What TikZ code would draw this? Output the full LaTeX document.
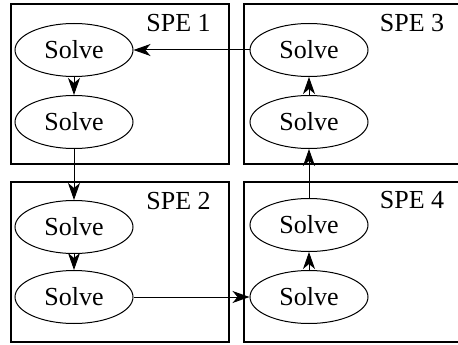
\documentclass[tikz,border=0pt]{standalone}
\usepackage{fontspec}
\setmainfont{Liberation Serif}
\usetikzlibrary{arrows.meta,shapes.geometric}
\begin{document}
\begin{tikzpicture}[x=1pt,y=-1pt,
 spebox/.style={draw,line width=1.5pt,minimum width=218pt,minimum height=160pt,inner sep=0pt},
 solve/.style={draw,ellipse,line width=1pt,minimum width=118pt,minimum height=53pt,inner sep=0pt,font=\fontsize{26}{29}\selectfont},
 lbl/.style={anchor=base,font=\fontsize{26}{29}\selectfont,inner sep=0pt},
 flow/.style={line width=1pt,-{Stealth[length=17pt,width=12pt,inset=5pt]}}]
\useasboundingbox (0,0) rectangle (458,345);
\clip (0,0) rectangle (458,345);
\fill[white] (0,0) rectangle (458,345);
% boxes
\node[spebox] (b1) at (120,84) {};
\node[spebox] (b2) at (120,262) {};
\node[spebox] (b3) at (353,84) {};
\node[spebox] (b4) at (353,262) {};
% labels
\node[lbl] (l1) at (178.5,31.5) {SPE 1};
\node[lbl] (l2) at (178.5,209) {SPE 2};
\node[lbl] (l3) at (412,31.5) {SPE 3};
\node[lbl] (l4) at (412,208.5) {SPE 4};
% ellipses
\node[solve] (s1a) at (74,50) {Solve};
\node[solve] (s1b) at (74,122) {Solve};
\node[solve] (s2a) at (74,227) {Solve};
\node[solve] (s2b) at (74,297) {Solve};
\node[solve] (s3a) at (309,50) {Solve};
\node[solve] (s3b) at (309,122) {Solve};
\node[solve] (s4a) at (309,225) {Solve};
\node[solve] (s4b) at (309,297) {Solve};
% connectors
\draw[flow] (s3a.west) -- (s1a.east);
\draw[flow] (s1a) -- (s1b);
\draw[flow] (s1b) -- (s2a);
\draw[flow] (s2a) -- (s2b);
\draw[flow] (s2b.east) -- (s4b.west);
\draw[flow] (s4b) -- (s4a);
\draw[flow] (s4a) -- (s3b);
\draw[flow] (s3b) -- (s3a);
\end{tikzpicture}
\end{document}
